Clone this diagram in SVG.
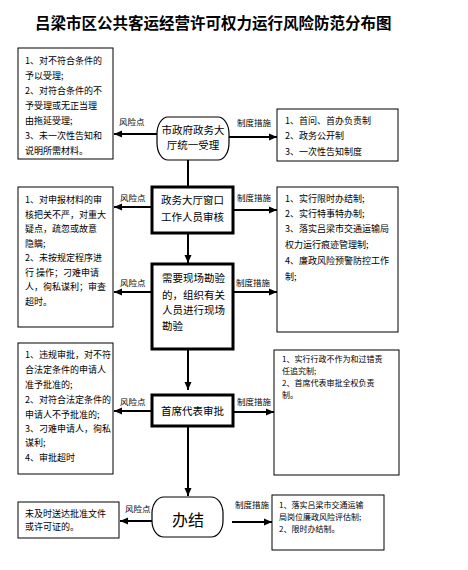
<svg xmlns="http://www.w3.org/2000/svg" width="468" height="570" viewBox="0 0 468 570">
<style>
text{font-family:"Noto Sans CJK SC","Liberation Sans",sans-serif;fill:#000}
.title{font-size:15.5px;font-weight:700}
.t{font-size:9px}
.s{font-size:8px}
.lb{font-size:8.5px}
.n{font-size:10.5px}
.box{fill:#fff;stroke:#000;stroke-width:1}
.nb{fill:#fff;stroke:#000;stroke-width:3}
.rn{fill:#fff;stroke:#000;stroke-width:1.2}
.c{stroke:#000;stroke-width:2;fill:none}
</style>
<defs>
<marker id="ah" markerUnits="userSpaceOnUse" markerWidth="8" markerHeight="8" viewBox="0 0 8 8" refX="8" refY="4" orient="auto">
<path d="M0,0.5 L8,4 L0,7.5 Z" fill="#000"/>
</marker>
</defs>
<rect width="468" height="570" fill="#fff"/>
<text class="title" x="35" y="29">吕梁市区公共客运经营许可权力运行风险防范分布图</text>

<g id="connectors">
<line class="c" x1="188" y1="160" x2="188" y2="187"/>
<line class="c" x1="188" y1="233" x2="188" y2="263" marker-end="url(#ah)"/>
<line class="c" x1="188" y1="349" x2="188" y2="390" marker-end="url(#ah)"/>
<line class="c" x1="188" y1="426" x2="188" y2="496" marker-end="url(#ah)"/>
<line class="c" x1="157" y1="134" x2="114" y2="134" marker-end="url(#ah)"/>
<line class="c" x1="229" y1="137" x2="277" y2="137" marker-end="url(#ah)"/>
<line class="c" x1="152" y1="207" x2="114" y2="207" marker-end="url(#ah)"/>
<line class="c" x1="233" y1="210" x2="277" y2="210" marker-end="url(#ah)"/>
<line class="c" x1="152" y1="292" x2="114" y2="292" marker-end="url(#ah)"/>
<line class="c" x1="233" y1="292" x2="277" y2="292" marker-end="url(#ah)"/>
<line class="c" x1="152" y1="411" x2="114" y2="411" marker-end="url(#ah)"/>
<line class="c" x1="233" y1="412" x2="274" y2="412" marker-end="url(#ah)"/>
<line class="c" x1="152" y1="521" x2="120" y2="521" marker-end="url(#ah)"/>
<line class="c" x1="232" y1="522" x2="272" y2="522" marker-end="url(#ah)"/>
<text class="lb" x="119" y="125">风险点</text>
<text class="lb" x="237" y="126">制度措施</text>
<text class="lb" x="120" y="201">风险点</text>
<text class="lb" x="237" y="201">制度措施</text>
<text class="lb" x="120" y="286">风险点</text>
<text class="lb" x="236" y="286">制度措施</text>
<text class="lb" x="120" y="405">风险点</text>
<text class="lb" x="237" y="405">制度措施</text>
<text class="lb" x="125" y="512">风险点</text>
<text class="lb" x="235" y="508">制度措施</text>
</g>

<g id="node1">
<rect class="rn" x="157" y="117" width="72" height="43" rx="11" ry="17"/>
<text class="n" x="193" y="134" text-anchor="middle">市政府政务大</text>
<text class="n" x="193" y="149" text-anchor="middle">厅统一受理</text>
</g>
<g id="node2">
<rect class="nb" x="152" y="187" width="81" height="46"/>
<text class="n" x="192.5" y="204" text-anchor="middle">政务大厅窗口</text>
<text class="n" x="192.5" y="221" text-anchor="middle">工作人员审核</text>
</g>
<g id="node3">
<rect class="nb" x="152" y="264" width="81" height="85"/>
<text class="n" x="162" y="282">需要现场勘验</text>
<text class="n" x="162" y="299">的，组织有关</text>
<text class="n" x="162" y="314">人员进行现场</text>
<text class="n" x="162" y="330">勘验</text>
</g>
<g id="node4">
<rect class="nb" x="152" y="395" width="81" height="31"/>
<text class="n" x="192.5" y="415" text-anchor="middle">首席代表审批</text>
</g>
<g id="node5">
<rect class="rn" x="152" y="497" width="71" height="40" rx="12" ry="16"/>
<text x="188" y="526" text-anchor="middle" style="font-size:16px">办结</text>
</g>

<g id="risk1">
<rect class="box" x="18" y="48" width="95" height="111"/>
<text class="t" x="25" y="64">1、对不符合条件的</text>
<text class="t" x="25" y="79">予以受理;</text>
<text class="t" x="25" y="94">2、对符合条件的不</text>
<text class="t" x="25" y="109">予受理或无正当理</text>
<text class="t" x="25" y="124">由拖延受理;</text>
<text class="t" x="25" y="139">3、未一次性告知和</text>
<text class="t" x="25" y="154">说明所需材料。</text>
</g>
<g id="measure1">
<rect class="box" x="277" y="109" width="121" height="52"/>
<text class="t" x="285" y="124">1、首问、首办负责制</text>
<text class="t" x="285" y="139">2、政务公开制</text>
<text class="t" x="285" y="155">3、一次性告知制度</text>
</g>
<g id="risk2">
<rect class="box" x="18" y="187" width="95" height="140"/>
<text class="t" x="25" y="203">1、对申报材料的审</text>
<text class="t" x="25" y="217.5">核把关不严，对重大</text>
<text class="t" x="25" y="232">疑点，疏忽或故意</text>
<text class="t" x="25" y="246.5">隐瞒;</text>
<text class="t" x="25" y="261">2、未按规定程序进</text>
<text class="t" x="25" y="275.5">行 操作；刁难申请</text>
<text class="t" x="25" y="290">人，徇私谋利；审查</text>
<text class="t" x="25" y="304.5">超时。</text>
</g>
<g id="measure2">
<rect class="box" x="277" y="187" width="121" height="145"/>
<text class="t" x="285" y="202">1、实行限时办结制;</text>
<text class="t" x="285" y="217">2、实行特事特办制;</text>
<text class="t" x="285" y="232">3、落实吕梁市交通运输局</text>
<text class="t" x="285" y="248">权力运行痕迹管理制;</text>
<text class="t" x="285" y="264">4、廉政风险预警防控工作</text>
<text class="t" x="285" y="280">制;</text>
</g>
<g id="risk3">
<rect class="box" x="18" y="343" width="95" height="131"/>
<text class="t" x="25" y="358">1、违规审批，对不符</text>
<text class="t" x="25" y="373">合法定条件的申请人</text>
<text class="t" x="25" y="388">准予批准的;</text>
<text class="t" x="25" y="403">2、对符合法定条件的</text>
<text class="t" x="25" y="418">申请人不予批准的;</text>
<text class="t" x="25" y="432">3、刁难申请人，徇私</text>
<text class="t" x="25" y="446">谋利;</text>
<text class="t" x="25" y="461">4、审批超时</text>
</g>
<g id="measure3">
<rect class="box" x="274" y="350" width="125" height="125"/>
<text class="s" x="282" y="362">1、实行行政不作为和过错责</text>
<text class="s" x="282" y="374">任追究制;</text>
<text class="s" x="282" y="386">2、首席代表审批全权负责</text>
<text class="s" x="282" y="398">制。</text>
</g>
<g id="risk4">
<rect class="box" x="18" y="502" width="101" height="36"/>
<text class="t" x="25" y="517">未及时送达批准文件</text>
<text class="t" x="25" y="530">或许可证的。</text>
</g>
<g id="measure4">
<rect class="box" x="272" y="495" width="112" height="55"/>
<text class="s" x="279" y="508">1、落实吕梁市交通运输</text>
<text class="s" x="279" y="520">局岗位廉政风险评估制;</text>
<text class="s" x="279" y="532">2、限时办结制。</text>
</g>
</svg>
